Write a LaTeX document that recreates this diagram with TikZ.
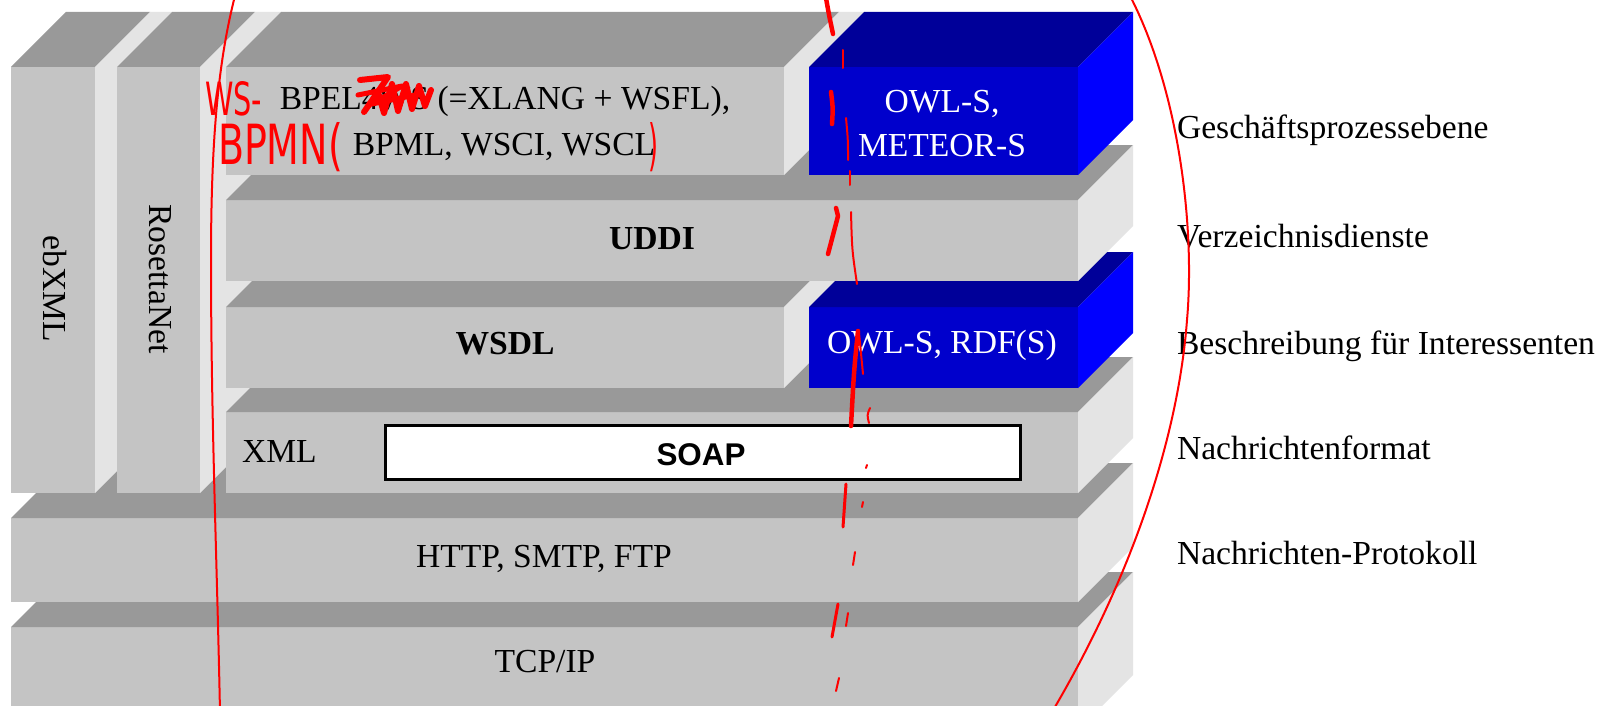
\documentclass[tikz,border=0pt]{standalone}
\usepackage{fontspec}
\usepackage{graphicx}
\setmainfont{Liberation Serif}
\newfontfamily\arialfont{Liberation Sans}
\newfontfamily\handfont{DejaVu Sans}
\usetikzlibrary{calc}

\definecolor{gfront}{RGB}{196,196,196}
\definecolor{gtop}{RGB}{153,153,153}
\definecolor{gside}{RGB}{228,228,228}
\definecolor{bfront}{RGB}{0,0,204}
\definecolor{btop}{RGB}{0,0,153}
\definecolor{bside}{RGB}{0,0,255}

% #1 name, #2 x1, #3 y1, #4 x2, #5 y2, #6 colour set, #7 gap to right neighbour
\newcommand\stackbox[7]{%
  \node[inner sep=0pt, outer sep=0pt, fill=#6front, minimum width={#4-#2}, minimum height={#5-#3}, anchor=north west] (#1) at (#2,#3) {};
  \fill[#6top] (#1.north west) -- ++(55,-55) -- ([shift={(55,-55)}]#1.north east) -- (#1.north east) -- cycle;
  \fill[#6side] (#1.south east) -- (#1.north east) -- ++(55,-55) -- ++(#7,0) -- ([shift={({55+#7},{-55-#7})}]#1.south east) -- cycle;
}

\tikzset{
  lbl/.style={inner sep=0pt, outer sep=0pt, anchor=base, font=\fontsize{33.6}{40}\selectfont},
  redthin/.style={draw=red, line width=2pt, line cap=round, line join=round},
  redthick/.style={draw=red, line width=4.5pt, line cap=round, line join=round},
  hand/.style={text=red, inner sep=0pt, outer sep=0pt}
}

\begin{document}
\begin{tikzpicture}[x=1pt,y=-1pt]
\useasboundingbox (0,0) rectangle (1605,706);
\fill[white] (0,0) rectangle (1605,706);
\clip (0,0) rectangle (1605,706);

% stack, drawn back to front
\stackbox{tcp}{11}{627}{1078}{730}{g}{0}
\stackbox{http}{11}{518}{1078}{602}{g}{0}
\stackbox{ebxml}{11}{67}{95}{493}{g}{22}
\stackbox{rosetta}{117}{67}{200}{493}{g}{26}
\stackbox{xmllayer}{226}{412}{1078}{493}{g}{0}
\node[draw=black, line width=2.5pt, fill=white, inner sep=0pt, outer sep=0pt,
      minimum width=635, minimum height=54, anchor=north west] (soap) at (385.5,425.5) {};
\stackbox{wsdl}{226}{307}{784}{388}{g}{25}
\stackbox{rdf}{809}{307}{1078}{388}{b}{0}
\stackbox{uddi}{226}{200}{1078}{281}{g}{0}
\stackbox{bpel}{226}{67}{784}{175}{g}{25}
\stackbox{meteor}{809}{67}{1078}{175}{b}{0}

% texts in the stack
\node[lbl] (bpeltxta) at (505,110) {BPEL4WS (=XLANG + WSFL),};
\node[lbl] (bpeltxtb) at (504,155) {BPML, WSCI, WSCL};
\node[lbl, text=white] (meteortxta) at (942,113) {OWL-S,};
\node[lbl, text=white] (meteortxtb) at (942,156) {METEOR-S};
\node[lbl, font=\fontsize{33.6}{40}\selectfont\bfseries] (udditxt) at (652,249) {UDDI};
\node[lbl, font=\fontsize{33.6}{40}\selectfont\bfseries] (wsdltxt) at (505,354) {WSDL};
\node[lbl, text=white] (rdftxt) at (942,353) {OWL-S, RDF(S)};
\node[lbl, anchor=base west] (xmltxt) at (242,462) {XML};
\node[lbl, font=\arialfont\fontsize{31.4}{38}\selectfont\bfseries] (soaptxt) at (701,465) {SOAP};
\node[lbl] (httptxt) at (544,567) {HTTP, SMTP, FTP};
\node[lbl] (tcptxt) at (545,672) {TCP/IP};
\node[lbl, anchor=center, rotate=-90] (ebxmltxt) at (55,289) {ebXML};
\node[lbl, anchor=center, rotate=-90] (rosettatxt) at (160,279) {RosettaNet};

% layer names on the right
\node[lbl, anchor=base west] (l1) at (1177,139) {Geschäftsprozessebene};
\node[lbl, anchor=base west] (l2) at (1177,247) {Verzeichnisdienste};
\node[lbl, anchor=base west] (l3) at (1177,354) {Beschreibung für Interessenten};
\node[lbl, anchor=base west] (l4) at (1177,459) {Nachrichtenformat};
\node[lbl, anchor=base west] (l5) at (1177,564) {Nachrichten-Protokoll};

% red hand annotations
\draw[redthin] (236,-8) .. controls (218,60) and (211,140) .. (211,260)
               .. controls (211,420) and (217,560) .. (220,712);
\draw[redthin] (1128,-8) .. controls (1180,90) and (1195,230) .. (1187,320)
               .. controls (1178,440) and (1130,580) .. (1052,712);

\node[hand, anchor=south west] (wsnote) at (205,116) {\resizebox{57pt}{34pt}{\handfont WS-}};
\node[hand, anchor=south west] (bpmnnote) at (218,172) {\resizebox{125pt}{42pt}{\handfont BPMN(}};
\node[hand] (parnote) at (653,147) {\resizebox{10pt}{42pt}{\handfont )}};

% scribble over "4WS"
\draw[redthick, line width=6pt] (360,80) -- (388,77) -- (364,112) -- (378,92) -- (384,113)
  -- (392,84) -- (398,111) -- (406,84) -- (412,109) -- (419,86) -- (425,106) -- (431,90);
\draw[redthick, line width=5pt] (358,95) -- (402,86) -- (372,104) -- (420,94);

% broken red line
\draw[redthick] (826,-2) .. controls (829,15) .. (833,34);
\draw[redthin] (843,50) -- (843,68);
\draw[redthick] (831,92) .. controls (833,108) .. (832,124);
\draw[redthin] (846,118) .. controls (848,140) .. (848,160);
\draw[redthin] (850,171) -- (850,185);
\draw[redthick] (836,208) -- (838,216) -- (828,254);
\draw[redthin] (851,212) .. controls (852,250) .. (857,284);
\draw[redthick] (858,331) .. controls (854,370) .. (851,426);
\draw[redthin] (859,333) -- (863,374);
\draw[redthin] (870,408) .. controls (867,415) .. (869,423);
\draw[redthin] (867,465) -- (866,468);
\draw[redthick, line width=3pt] (846,484) -- (843,527);
\draw[redthin] (863,502) -- (862,507);
\draw[redthin] (855,552) -- (853,565);
\draw[redthick, line width=3pt] (838,604) -- (832,637);
\draw[redthin] (848,613) -- (846,626);
\draw[redthin] (839,678) -- (836,691);
\end{tikzpicture}
\end{document}
